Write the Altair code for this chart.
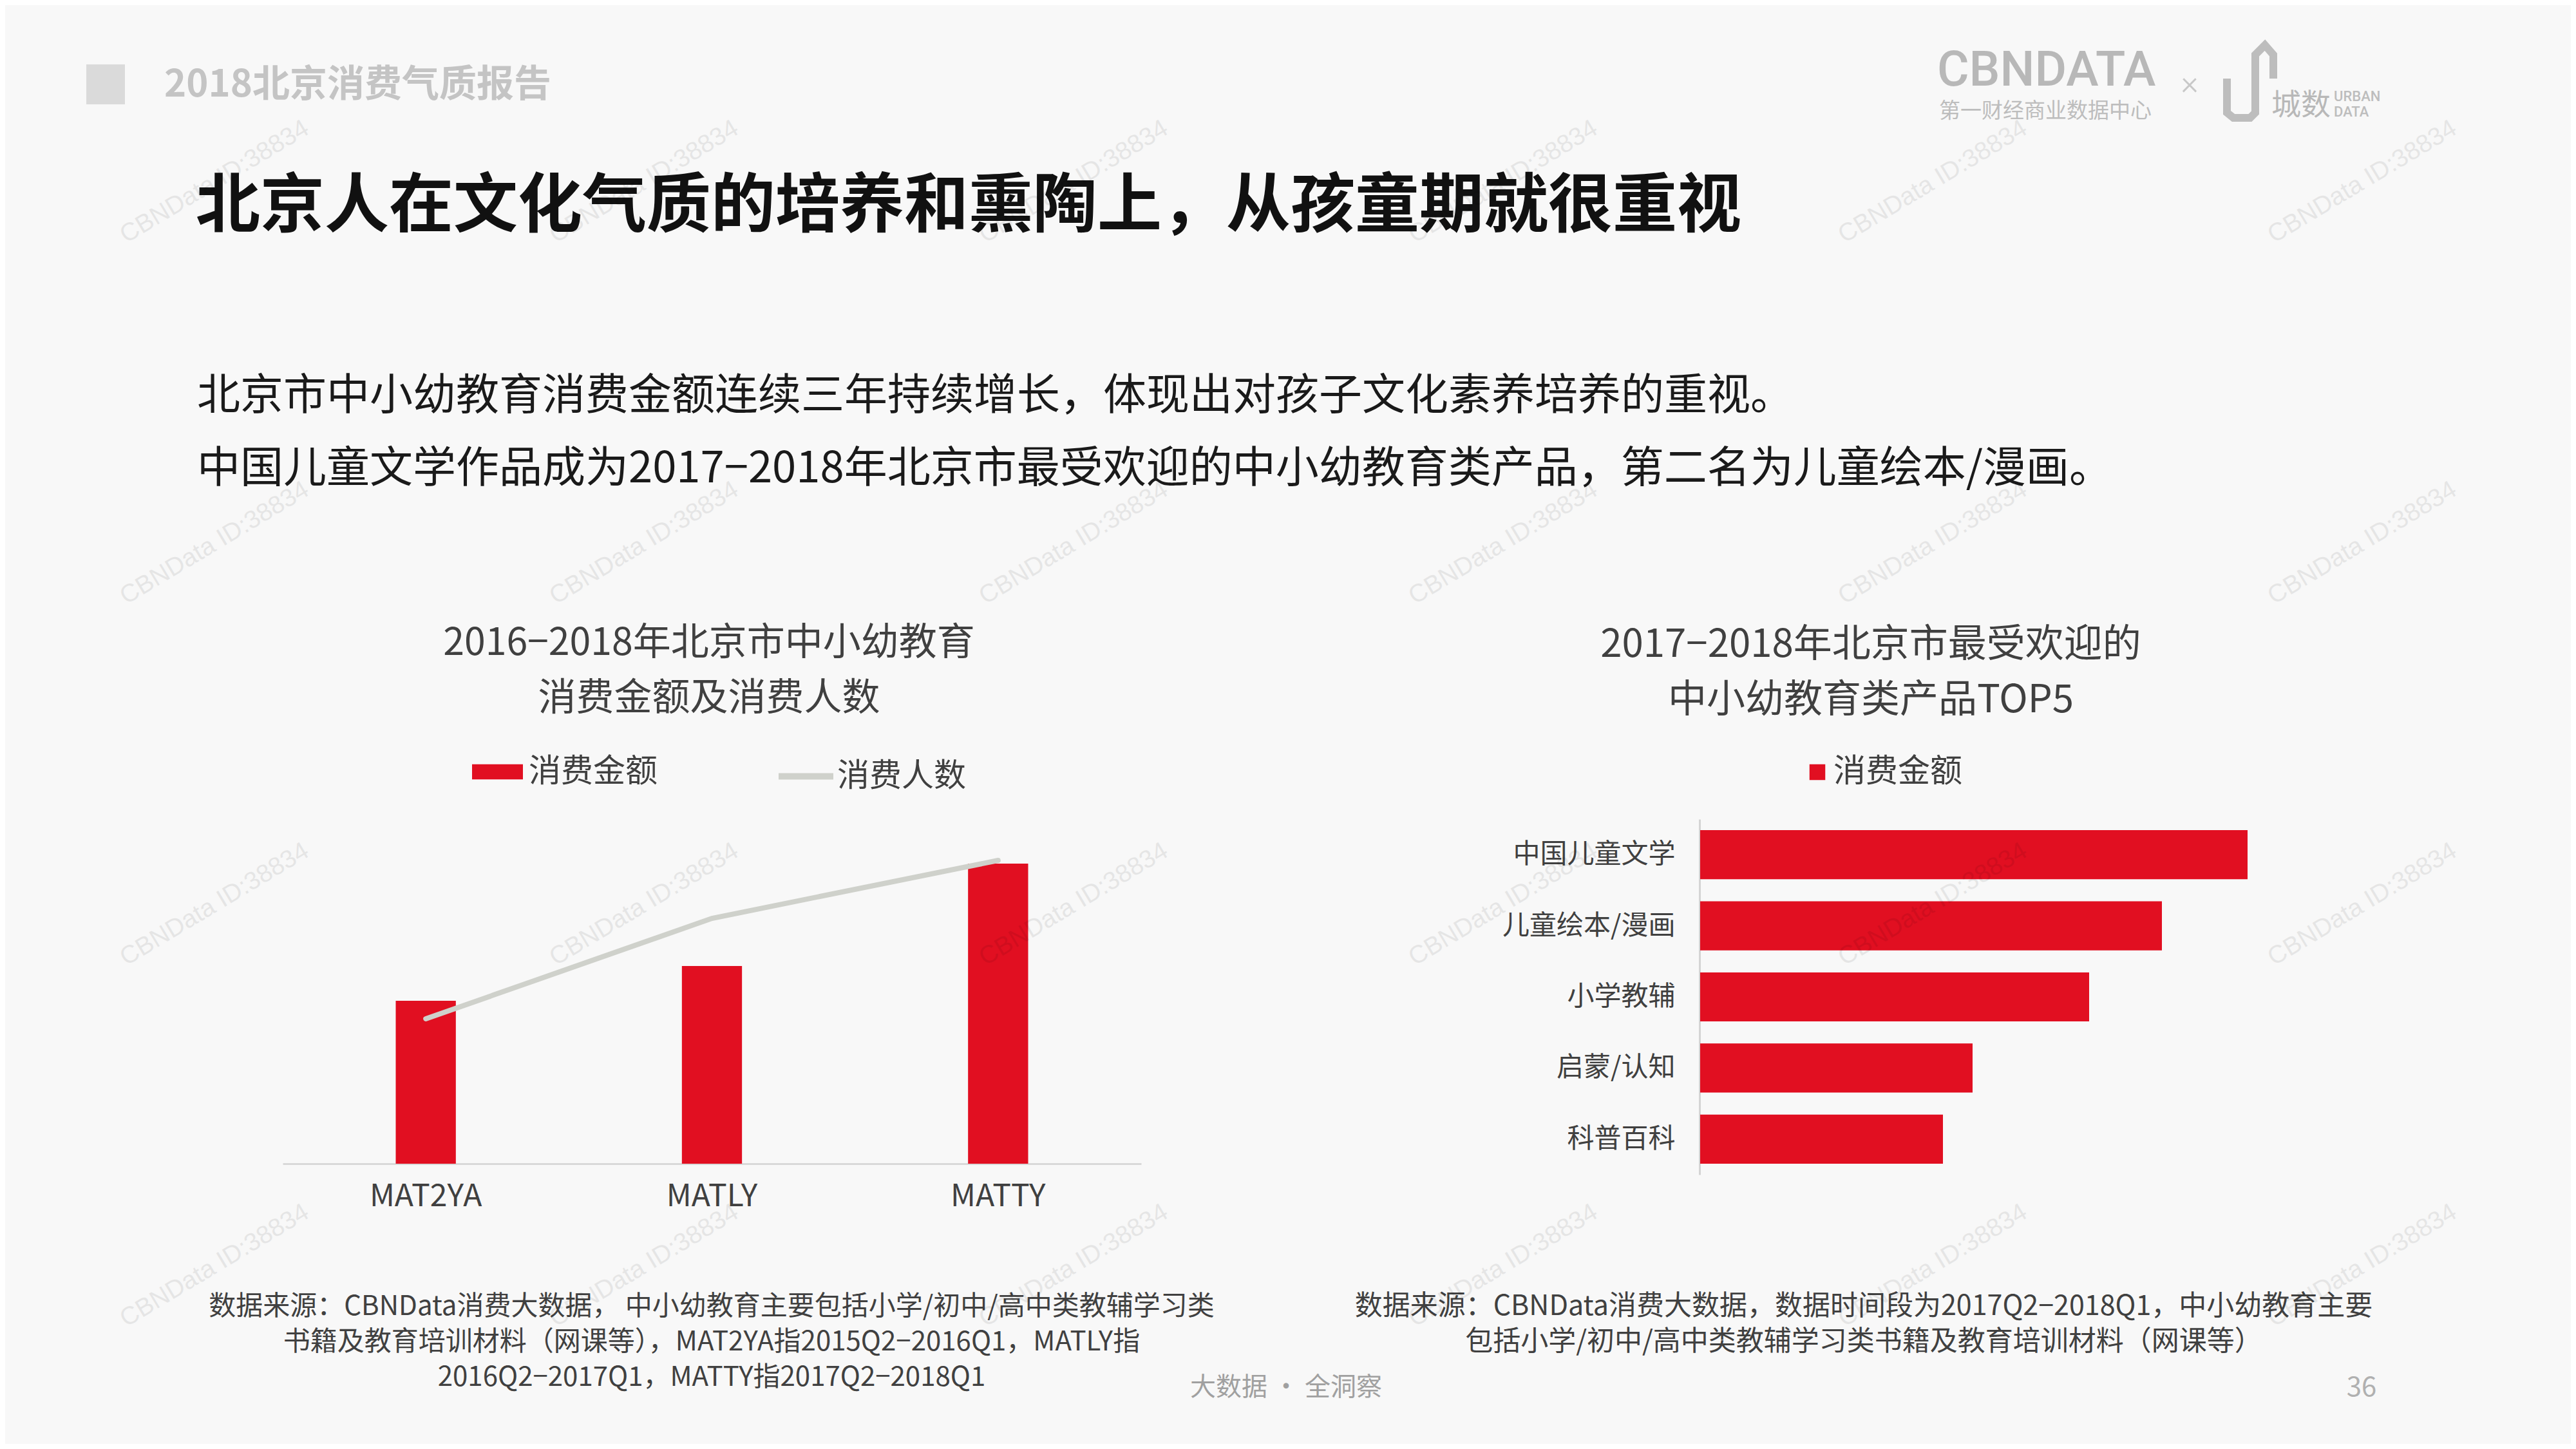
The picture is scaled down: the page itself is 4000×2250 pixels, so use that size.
import altair as alt
import pandas as pd

FONT = "Noto Sans CJK SC"
RED = "#E10F21"
LINE_GRAY = "#CFD1CB"
BG = "#F8F8F8"
DARK = "#404040"

# ---------------- data ----------------
header_tag = "2018北京消费气质报告"
headline = "北京人在文化气质的培养和熏陶上，从孩童期就很重视"
summary_lines = [
    "北京市中小幼教育消费金额连续三年持续增长，体现出对孩子文化素养培养的重视。",
    "中国儿童文学作品成为2017−2018年北京市最受欢迎的中小幼教育类产品，第二名为儿童绘本/漫画。",
]
left_title = ["2016−2018年北京市中小幼教育", "消费金额及消费人数"]
right_title = ["2017−2018年北京市最受欢迎的", "中小幼教育类产品TOP5"]

periods = ["MAT2YA", "MATLY", "MATTY"]
spend_amount = [2.53, 3.07, 4.66]      # 消费金额 (relative)
spend_people = [2.25, 3.81, 4.71]      # 消费人数 (relative)

products = ["中国儿童文学", "儿童绘本/漫画", "小学教辅", "启蒙/认知", "科普百科"]
product_amount = [850, 717, 604, 423, 377]   # 消费金额 (relative)

left_note = [
    "数据来源：CBNData消费大数据， 中小幼教育主要包括小学/初中/高中类教辅学习类",
    "书籍及教育培训材料（网课等），MAT2YA指2015Q2−2016Q1，MATLY指",
    "2016Q2−2017Q1，MATTY指2017Q2−2018Q1",
]
right_note = [
    "数据来源：CBNData消费大数据，数据时间段为2017Q2−2018Q1，中小幼教育主要",
    "包括小学/初中/高中类教辅学习类书籍及教育培训材料（网课等）",
]
slogan = "大数据 · 全洞察"
page_no = "36"
watermark = "CBNData ID:38834"

# ---------------- layout ----------------
W, H = 3984, 2234
M = 8  # page margin


def X(v):
    return v - M


def Y(v):
    return v - M


def label(lines, x, y, size, color, weight="normal", align="left", lh=None,
          angle=None, opacity=None, font=FONT):
    """y is the centre of the first line."""
    if isinstance(lines, str):
        lines = [lines]
    df = pd.DataFrame({"t": ["\n".join(lines)]})
    kw = dict(x=X(x), y=Y(y), fontSize=size, color=color, fontWeight=weight,
              align=align, baseline="middle", font=font, lineBreak="\n")
    if lh is not None:
        kw["lineHeight"] = lh
    if angle is not None:
        kw["angle"] = angle
    if opacity is not None:
        kw["opacity"] = opacity
    return alt.Chart(df).mark_text(**kw).encode(text="t:N")


layers = []

# header square
layers.append(
    alt.Chart(pd.DataFrame({"a": [0]})).mark_rect(color="#DADADA").encode(
        x=alt.value(X(134)), x2=alt.value(X(194)), y=alt.value(Y(100)), y2=alt.value(Y(162))
    )
)
layers.append(label(header_tag, 255, 133, 58, "#C4C4C4", weight="bold"))
layers.append(label(headline, 304, 322, 100, "#111111", weight="bold"))
layers.append(label(summary_lines, 306, 616, 67, "#1A1A1A", lh=113))

# logo
layers.append(label("CBNDATA", 3008, 110, 76, "#B8B8B8", weight=500, font="Roboto"))
layers.append(label("第一财经商业数据中心", 3011, 173, 33, "#BDBDBD"))
layers.append(label("×", 3400, 130, 52, "#C8C8C8", align="center", weight=300, font="Roboto"))
U_PATH = ("M-0.586,-0.052L-0.586,0.862L-0.414,1L0.034,1L0.172,0.862L0.172,-0.69"
          "L0.43,-0.948L0.655,-0.69L0.655,-0.052")
layers.append(
    alt.Chart(pd.DataFrame({"a": [0]})).mark_point(
        shape=U_PATH, size=116 * 116, filled=False, strokeWidth=12, color="#BDBDBD",
        opacity=1, strokeJoin="miter"
    ).encode(x=alt.value(X(3492)), y=alt.value(Y(125)))
)
layers.append(label("城数", 3527, 164, 46, "#B8B8B8"))
layers.append(label(["URBAN", "DATA"], 3624, 150, 22, "#BDBDBD", lh=24, weight=500, font="Roboto"))

# chart titles
layers.append(label(left_title, 1101, 999, 59, DARK, align="center", lh=86))
layers.append(label(right_title, 2905, 1002, 60, DARK, align="center", lh=86))

# ---------------- left chart: bars + line ----------------
left_df = pd.DataFrame({"period": periods, "amount": spend_amount, "s": ["消费金额"] * 3})
line_df = pd.DataFrame({"period": periods, "people": spend_people, "s": ["消费人数"] * 3})

left_bars = alt.Chart(left_df).mark_bar().encode(
    x=alt.X(
        "period:N",
        scale=alt.Scale(type="band", domain=periods, range=[X(439), X(1772)],
                        paddingInner=0.79, paddingOuter=0.395),
        axis=alt.Axis(title=None, orient="bottom", offset=Y(1807) - H, labelAngle=0,
                      ticks=False, tickSize=0, grid=False, domainColor="#D9D9D9",
                      domainWidth=3, labelFont=FONT, labelFontSize=48, labelColor=DARK,
                      labelPadding=27),
    ),
    y=alt.Y("amount:Q", scale=alt.Scale(domain=[0, 5], range=[Y(1807), Y(1307)], nice=False),
            axis=None),
    color=alt.Color(
        "s:N",
        scale=alt.Scale(range=[RED]),
        legend=alt.Legend(title=None, orient="none", legendX=X(733), legendY=Y(1159),
                          symbolType="M-1,-0.3H1V0.3H-1Z", symbolSize=6241,
                          symbolStrokeWidth=0, labelFont=FONT, labelFontSize=50,
                          labelColor=DARK, labelOffset=9, labelLimit=400, padding=0),
    ),
)

left_line = alt.Chart(line_df).mark_line(strokeWidth=8, strokeCap="round").encode(
    x=alt.X("period:N",
            scale=alt.Scale(type="point", domain=periods, range=[X(439), X(1772)], padding=0.5),
            axis=None),
    y=alt.Y("people:Q", scale=alt.Scale(domain=[0, 5], range=[Y(1807), Y(1307)], nice=False),
            axis=None),
    color=alt.Color(
        "s:N",
        scale=alt.Scale(range=[LINE_GRAY]),
        legend=alt.Legend(title=None, orient="none", legendX=X(1204), legendY=Y(1158),
                          symbolType="stroke", symbolSize=7225, symbolStrokeWidth=10,
                          labelFont=FONT, labelFontSize=50, labelColor=DARK,
                          labelOffset=1, labelLimit=400, padding=0),
    ),
)

# ---------------- right chart: horizontal bars ----------------
right_df = pd.DataFrame({"product": products, "amount": product_amount, "s": ["消费金额"] * 5})

right_bars = alt.Chart(right_df).mark_bar().encode(
    y=alt.Y(
        "product:N",
        scale=alt.Scale(type="band", domain=products, range=[Y(1272), Y(1824)],
                        paddingInner=0.31, paddingOuter=0.155),
        axis=alt.Axis(title=None, orient="left", offset=-X(2639), ticks=False, tickSize=0,
                      grid=False, domainColor="#D4D4D4", domainWidth=3, labelFont=FONT,
                      labelFontSize=42, labelColor=DARK, labelPadding=38, labelLimit=600),
    ),
    x=alt.X("amount:Q", scale=alt.Scale(domain=[0, 1000], range=[X(2640), X(3640)], nice=False),
            axis=None),
    color=alt.Color(
        "s:N",
        scale=alt.Scale(range=[RED]),
        legend=alt.Legend(title=None, orient="none", legendX=X(2797), legendY=Y(1174),
                          symbolType="square", symbolSize=600, symbolStrokeWidth=0,
                          labelFont=FONT, labelFontSize=50, labelColor=DARK,
                          labelOffset=0, labelLimit=400, padding=0),
    ),
)

layers += [left_bars, left_line, right_bars]

# notes and footer
layers.append(label(left_note, 1105, 2029, 42, DARK, align="center", lh=55))
layers.append(label(right_note, 2894, 2029, 43, DARK, align="center", lh=55))
layers.append(label(slogan, 1997, 2155, 40, "#A0A0A0", align="center"))
layers.append(label(page_no, 3667, 2155, 42, "#B0B0B0", align="center"))

# watermarks
for i in range(6):
    for j in range(4):
        layers.append(label(watermark, 333 + 667 * i, 282 + 561 * j, 39, "#000000",
                            align="center", angle=329, opacity=0.07, font="Liberation Sans"))

chart = alt.layer(*layers).resolve_scale(
    x="independent", y="independent", color="independent"
).resolve_axis(
    x="independent", y="independent"
).resolve_legend(
    color="independent"
).properties(
    width=W, height=H, padding=0, background=BG,
    autosize=alt.AutoSizeParams(type="none"),
).configure_view(stroke=None)

chart.save("out.html", embed_options={"renderer": "svg", "actions": False})
